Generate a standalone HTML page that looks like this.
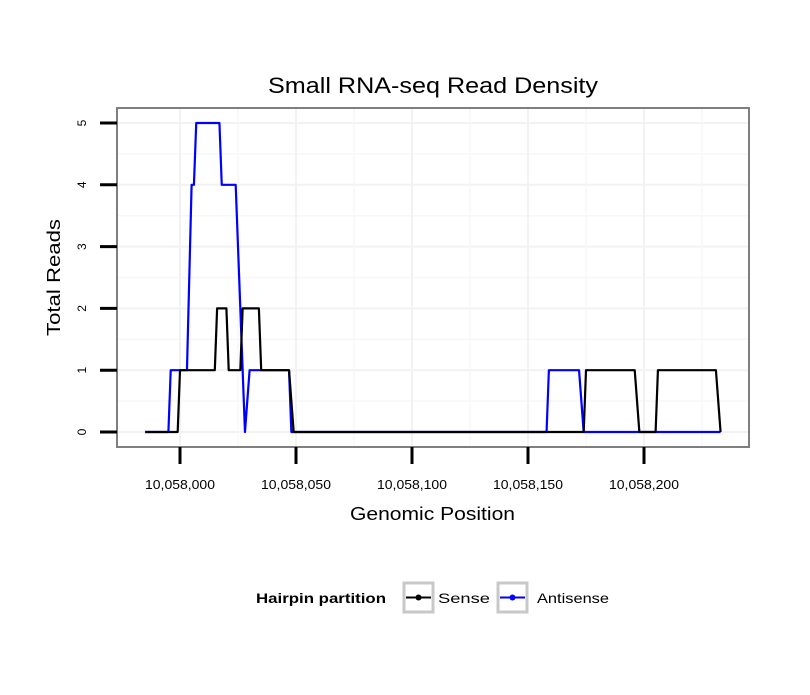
<!DOCTYPE html>
<html><head><meta charset="utf-8"><style>
body{margin:0;background:#fff;font-family:"Liberation Sans",sans-serif}
</style></head><body>
<svg id="chart" width="810" height="690" xmlns="http://www.w3.org/2000/svg" font-family="Liberation Sans, sans-serif">
<rect width="810" height="690" fill="#fff"/>
<text x="268" y="93" font-size="22" textLength="330" lengthAdjust="spacingAndGlyphs">Small RNA-seq Read Density</text>
<g id="grid"></g>
<g id="series"></g>
<rect x="117" y="108" width="632" height="339" fill="none" stroke="#7f7f7f" stroke-width="2"/>
<g id="axes"></g>
<text x="350" y="520" font-size="18" textLength="165" lengthAdjust="spacingAndGlyphs">Genomic Position</text>
<text transform="translate(60,336) rotate(-90)" font-size="18" textLength="117" lengthAdjust="spacingAndGlyphs">Total Reads</text>
<g>
<text x="256" y="603" font-size="14" font-weight="bold" textLength="130" lengthAdjust="spacingAndGlyphs">Hairpin partition</text>
<g>
<rect x="404" y="583" width="29" height="29" fill="#fff" stroke="#c8c8c8" stroke-width="3"/>
<line x1="406" y1="597.5" x2="431" y2="597.5" stroke="#000" stroke-width="2"/>
<circle cx="418.5" cy="597.5" r="3" fill="#000"/>
<text x="438" y="603" font-size="14" textLength="52" lengthAdjust="spacingAndGlyphs">Sense</text></g>
<g>
<rect x="498" y="583" width="29" height="29" fill="#fff" stroke="#c8c8c8" stroke-width="3"/>
<line x1="500" y1="597.5" x2="525" y2="597.5" stroke="#0000ff" stroke-width="2"/>
<circle cx="512.5" cy="597.5" r="3" fill="#0000ff"/>
<text x="537" y="603" font-size="14" textLength="72" lengthAdjust="spacingAndGlyphs">Antisense</text></g>
</g>
</svg>
<script>
const senseX=[-15,-1,0,15,16,20,21,26,27,34,35,47,49,174,175,196,198,205,206,231,233];
const senseY=[0,0,1,1,2,2,1,1,2,2,1,1,0,0,1,1,0,0,1,1,0];
const antiX=[-15,-5,-4,3,5,6,7,17,18,24,25,27,28,30,47,48,158,159,172,174,233];
const antiY=[0,0,1,1,4,4,5,5,4,4,3,1,0,1,1,0,0,1,1,0,0];
const xTicks=[0,50,100,150,200];
const xTickLabels=["10,058,000","10,058,050","10,058,100","10,058,150","10,058,200"];
const yTicks=[0,1,2,3,4,5];
const NS="http://www.w3.org/2000/svg";
function sx(p){return 180+p*2.32;}
function sy(v){return 432-v*61.8;}
function mk(tag,attrs,parent){const e=document.createElementNS(NS,tag);for(const k in attrs)e.setAttribute(k,attrs[k]);parent.appendChild(e);return e;}
const grid=document.getElementById('grid'),axes=document.getElementById('axes'),ser=document.getElementById('series');
for(let i=0;i<yTicks.length;i++){
 const v=yTicks[i];
 const g=mk('line',{x1:117,x2:749,y1:sy(v),y2:sy(v),stroke:'#f2f2f2','stroke-width':2},grid);
 
 
 if(i<yTicks.length-1){const m=mk('line',{x1:117,x2:749,y1:sy(v+0.5),y2:sy(v+0.5),stroke:'#f7f7f7','stroke-width':1.5},grid);
 
 }
 const t=mk('line',{x1:100,x2:117,y1:sy(v),y2:sy(v),stroke:'#000','stroke-width':3},axes);
 
 
 const l=mk('text',{transform:`translate(86,${sy(v)}) rotate(-90)`,'text-anchor':'middle','font-size':12},axes);
 l.textContent=v;
 
 
}
for(let i=0;i<xTicks.length;i++){
 const p=xTicks[i];
 const g=mk('line',{x1:sx(p),x2:sx(p),y1:108,y2:447,stroke:'#f2f2f2','stroke-width':2},grid);
 
 
 const m=mk('line',{x1:sx(p+25),x2:sx(p+25),y1:108,y2:447,stroke:'#f7f7f7','stroke-width':1.5},grid);
 
 
 const t=mk('line',{x1:sx(p),x2:sx(p),y1:447,y2:464,stroke:'#000','stroke-width':3},axes);
 
 
 const l=mk('text',{x:sx(p)-35,y:489,'font-size':13,textLength:70,lengthAdjust:'spacingAndGlyphs'},axes);
 l.textContent=xTickLabels[i];
 
 
}
function line(xs,ys,color,name){
 const d=xs.map((x,i)=>(i?'L':'M')+sx(x)+','+sy(ys[i])).join(' ');
 const p=mk('path',{d:d,fill:'none',stroke:color,'stroke-width':2.2,'stroke-linejoin':'round'},ser);
 
 
}
line(antiX,antiY,'#0000ff','antisense-line');
line(senseX,senseY,'#000000','sense-line');
</script>
</body></html>
